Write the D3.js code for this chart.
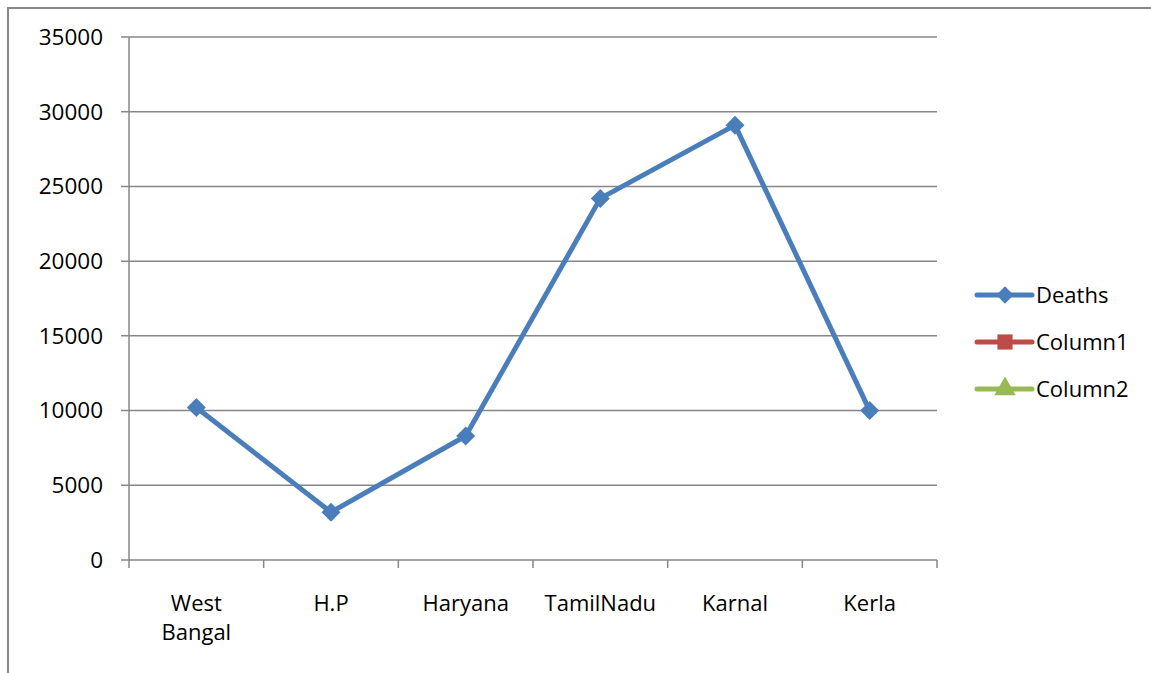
<!DOCTYPE html>
<html>
<head>
<meta charset="utf-8">
<script src="https://cdn.jsdelivr.net/npm/d3@7"></script>
<style>
  body { margin: 0; background: #fff; }
  text { font-family: "Open Sans", sans-serif; fill: #000; }
</style>
</head>
<body>
<div id="chart"></div>
<script>
var states = ["West Bangal", "H.P", "Haryana", "TamilNadu", "Karnal", "Kerla"];
var deaths = [10200, 3200, 8300, 24200, 29100, 10000];
var yTicks = [0, 5000, 10000, 15000, 20000, 25000, 30000, 35000];
var legendNames = ["Deaths", "Column1", "Column2"];
var legendColors = ["#4a7ebb", "#be4b48", "#98b954"];

var svg = d3.select("#chart")
    .append("svg")
    .attr("width", 1151)
    .attr("height", 673);

// outer frame (only left/top visible)
svg.append("path")
    .attr("d", "M8,673 V8 H1151")
    .attr("fill", "none")
    .attr("stroke", "#878787")
    .attr("stroke-width", 2);

var margin = { top: 37, left: 129 },
    width = 808,
    height = 523;

var g = svg.append("g")
    .attr("transform", "translate(" + margin.left + "," + margin.top + ")");

var x = d3.scaleBand().domain(states).range([0, width]);
var y = d3.scaleLinear().domain([0, 35000]).range([height, 0]);

// gridlines
g.selectAll(".grid")
    .data(yTicks)
    .enter().append("line")
    .attr("x1", -8)
    .attr("x2", width)
    .attr("y1", function(d) { return y(d); })
    .attr("y2", function(d) { return y(d); })
    .attr("stroke", "#878787")
    .attr("stroke-width", 1.5);

// y axis line
g.append("line")
    .attr("x1", 0).attr("x2", 0)
    .attr("y1", 0).attr("y2", height)
    .attr("stroke", "#878787")
    .attr("stroke-width", 1.5);

// x tick marks at band boundaries
var bounds = states.map(function(s) { return x(s); }).concat([width]);
g.selectAll(".xtick")
    .data(bounds)
    .enter().append("line")
    .attr("x1", function(d) { return d; })
    .attr("x2", function(d) { return d; })
    .attr("y1", height)
    .attr("y2", height + 8)
    .attr("stroke", "#878787")
    .attr("stroke-width", 1.5);

// y labels
g.selectAll(".ylab")
    .data(yTicks)
    .enter().append("text")
    .attr("x", -26)
    .attr("y", function(d) { return y(d); })
    .attr("dy", "0.35em")
    .attr("text-anchor", "end")
    .style("font-size", "22.5px")
    .text(function(d) { return d; });

// x labels
g.selectAll(".xlab")
    .data(states)
    .enter().append("text")
    .attr("text-anchor", "middle")
    .style("font-size", "22px")
    .attr("transform", function(d) {
        return "translate(" + (x(d) + x.bandwidth() / 2) + "," + (height + 51) + ")";
    })
    .each(function(d) {
        var words = d.split(" ");
        var t = d3.select(this);
        words.forEach(function(w, i) {
            t.append("tspan").attr("x", 0).attr("dy", i === 0 ? 0 : 29).text(w);
        });
    });

var line = d3.line()
    .x(function(d, i) { return x(states[i]) + x.bandwidth() / 2; })
    .y(function(d) { return y(d); });

g.append("path")
    .datum(deaths)
    .attr("fill", "none")
    .attr("stroke", legendColors[0])
    .attr("stroke-width", 5)
    .attr("stroke-linejoin", "round")
    .attr("d", line);

var diamond = d3.symbol().type(d3.symbolDiamond2).size(230);
g.selectAll(".pt")
    .data(deaths)
    .enter().append("path")
    .attr("d", diamond)
    .attr("fill", legendColors[0])
    .attr("transform", function(d, i) {
        return "translate(" + (x(states[i]) + x.bandwidth() / 2) + "," + y(d) + ")";
    });

// legend
var symbols = [d3.symbolDiamond2, d3.symbolSquare, d3.symbolTriangle];
var symSizes = [190, 230, 200];
var legend = svg.selectAll(".leg")
    .data(legendNames)
    .enter().append("g")
    .attr("transform", function(d, i) { return "translate(977," + (295 + i * 47) + ")"; });

legend.append("line")
    .attr("x1", 0).attr("x2", 55)
    .attr("stroke", function(d, i) { return legendColors[i]; })
    .attr("stroke-width", 5)
    .attr("stroke-linecap", "round");

legend.append("path")
    .attr("d", function(d, i) { return d3.symbol().type(symbols[i]).size(symSizes[i])(); })
    .attr("fill", function(d, i) { return legendColors[i]; })
    .attr("transform", "translate(28,0)");

legend.append("text")
    .attr("x", 59)
    .attr("dy", "0.35em")
    .style("font-size", "22px")
    .text(function(d) { return d; });
</script>
</body>
</html>
